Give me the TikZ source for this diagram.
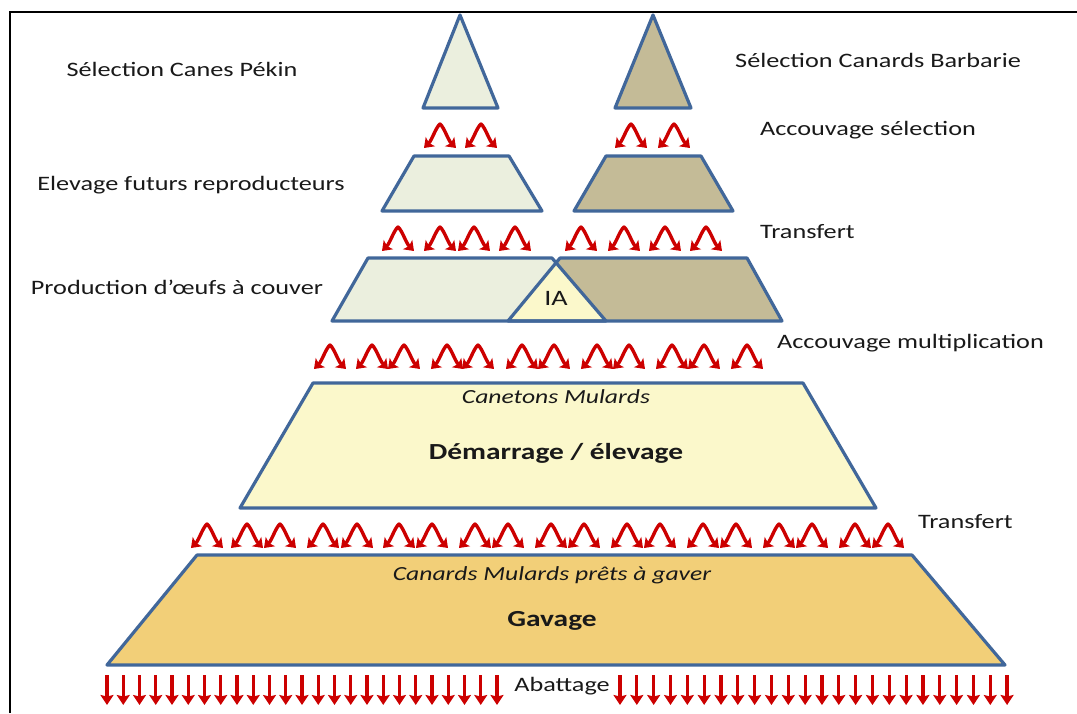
\documentclass[tikz,border=0pt]{standalone}
\usepackage{fontspec}
\setmainfont{Carlito}[FakeStretch=1.28]
\usetikzlibrary{positioning,arrows.meta}
\definecolor{pekin}{HTML}{EBEFDE}
\definecolor{barbarie}{HTML}{C4BB97}
\definecolor{paleyellow}{HTML}{FBF8CB}
\definecolor{gavagefill}{HTML}{F2CF78}
\definecolor{bordblue}{HTML}{41679A}
\definecolor{flecherouge}{HTML}{CC0000}
\newcommand{\forkrow}[2]{%
  \foreach \x in {#2} {\draw[forkarrow] (\x-16,#1+24) .. controls (\x-8,#1+16) and (\x-4,#1+3) .. (\x,#1)
    .. controls (\x+4,#1+3) and (\x+8,#1+16) .. (\x+16,#1+24);}}
\tikzset{
  every node/.style={
    inner sep=0pt,
    text=black!90,
    font=\fontsize{20.5}{24}\selectfont
  },
  tier/.style={draw=bordblue, line width=3.2pt, line join=round},
  forkarrow/.style={draw=flecherouge, line width=3.4pt, line join=round,
    {Stealth[length=9pt,width=13pt,inset=2pt]}-{Stealth[length=9pt,width=13pt,inset=2pt]}},
  droparrow/.style={draw=flecherouge, line width=3.2pt, -{Stealth[length=10pt,width=13pt,inset=1.5pt]}},
  stagename/.style={font=\bfseries\fontsize{23}{27}\selectfont},
  stagesub/.style={font=\itshape\fontsize{20}{24}\selectfont}
}
\begin{document}
\begin{tikzpicture}[x=1pt,y=-1pt]
  \useasboundingbox (0,0) rectangle (1077,713);
  \draw[line width=2.2pt] (10,713) -- (10,12) -- (1077,12);
  % selection
  \path[tier, fill=pekin] (423,108) -- (460,15) -- (498,108) -- cycle;
  \path[tier, fill=barbarie] (615,108) -- (653,15) -- (691,108) -- cycle;
  \forkrow{124}{440,481,631,674}
  % futurs reproducteurs
  \path[tier, fill=pekin] (382,211) -- (414,156) -- (509,156) -- (542,211) -- cycle;
  \path[tier, fill=barbarie] (574,211) -- (606,156) -- (701,156) -- (733,211) -- cycle;
  \forkrow{227}{398,440,474,515,581,624,665,706}
  % production + IA
  \fill[pekin] (332,321) -- (368,258) -- (552,258) -- (606,321) -- cycle;
  \fill[barbarie] (508,321) -- (560,258) -- (747,258) -- (782,321) -- cycle;
  \fill[paleyellow] (556,263) -- (606,321) -- (508,321) -- cycle;
  \path[tier] (332,321) -- (368,258) -- (552,258) -- (606,321) -- cycle;
  \path[tier] (508,321) -- (560,258) -- (747,258) -- (782,321) -- cycle;
  \forkrow{345}{330,372,404,447,478,522,554,597,629,672,704,747}
  % mulards
  \path[tier, fill=paleyellow] (240,508) -- (313,383) -- (803,383) -- (876,508) -- cycle;
  \forkrow{524}{207,247,280,323,357,399,432,475,508,551,584,627,660,703,736,779,812,855,888}
  \path[tier, fill=gavagefill] (107,665) -- (197,555) -- (912,555) -- (1005,665) -- cycle;
  \foreach \i in {0,...,24} {\draw[droparrow] ({107+16.25*\i},675) -- ++(0,30);}
  \foreach \i in {0,...,23} {\draw[droparrow] ({620+16.83*\i},675) -- ++(0,30);}

  \node (SelPekin) at (182,69) {Sélection Canes Pékin};
  \node (Elevage) at (191,185) {Elevage futurs reproducteurs};
  \node (Production) at (177,287) {Production d’œufs à couver};
  \node [anchor=west] (SelBarbarie) at (735,60) {Sélection Canards Barbarie};
  \node [anchor=west] (AccSel) at (760,130) {Accouvage sélection};
  \node [anchor=west] (TransfertA) at (760,232) {Transfert};
  \node [anchor=west] (AccMulti) at (777,343) {Accouvage multiplication};
  \node [anchor=west] (TransfertB) at (918,522) {Transfert};
  \node [font=\fontsize{22}{26}\selectfont] (IA) at (556,298) {IA};
  \node [stagesub] (Canetons) at (556,397) {Canetons Mulards};
  \node [stagename, on grid, below=56pt of Canetons] (Demarrage) {Démarrage / élevage};
  \node [stagesub] (PretsGaver) at (552,575) {Canards Mulards prêts à gaver};
  \node [stagename, on grid, below=46pt of PretsGaver] (Gavage) {Gavage};
  \node (Abattage) at (562,686) {Abattage};
\end{tikzpicture}
\end{document}
